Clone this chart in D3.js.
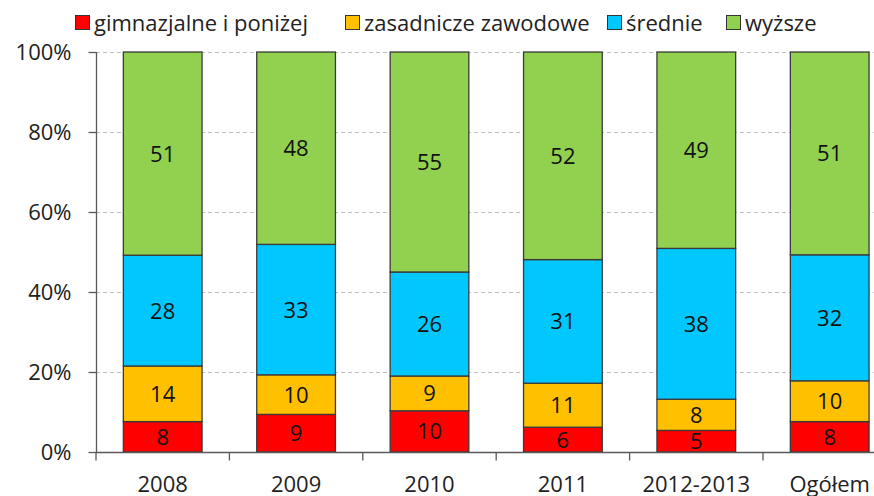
<!DOCTYPE html>
<html><head><meta charset="utf-8">
<script src="https://cdn.jsdelivr.net/npm/d3@7"></script>
<style>html,body{margin:0;padding:0;background:#fff;} svg{display:block;}</style>
</head><body>
<div id="chart"></div>
<script>
const categories = ["2008", "2009", "2010", "2011", "2012-2013", "Ogółem"];
const seriesNames = ["gimnazjalne i poniżej", "zasadnicze zawodowe", "średnie", "wyższe"];
const gimnazjalne = [7.6, 9.4, 10.3, 6.2, 5.4, 7.6];
const zasadnicze  = [13.9, 9.9, 8.7, 11.0, 7.8, 10.2];
const srednie     = [27.7, 32.6, 26.0, 30.9, 37.7, 31.5];
const wyzsze      = [50.8, 48.1, 55.0, 51.9, 49.1, 50.7];
const yTicks = [0, 0.2, 0.4, 0.6, 0.8, 1.0];
const colors = ["#FF0000", "#FFC000", "#00C8FF", "#92D050"];

const W = 874, H = 496;
const FONT = "'Open Sans', 'Liberation Sans', sans-serif";
const FS = 22;
const margin = {left: 96, top: 52, bottom: 44};
const plotW = 6 * 133.4;
const plotH = 400;

const svg = d3.select("#chart").append("svg").attr("width", W).attr("height", H)
  .style("font-family", FONT);

const table = categories.map((c, i) => ({
  cat: c, s0: gimnazjalne[i], s1: zasadnicze[i], s2: srednie[i], s3: wyzsze[i]
}));
const keys = ["s0", "s1", "s2", "s3"];
const stacked = d3.stack().keys(keys).offset(d3.stackOffsetExpand)(table);

const x = d3.scaleBand().domain(categories).range([margin.left, margin.left + plotW])
  .paddingInner(0.41).paddingOuter(0.205);
const y = d3.scaleLinear().domain([0, 1]).range([margin.top + plotH, margin.top]);

// gridlines
svg.append("g").selectAll("line").data(yTicks.filter(t => t > 0)).join("line")
  .attr("x1", margin.left).attr("x2", margin.left + plotW)
  .attr("y1", d => Math.round(y(d)) + 0.5).attr("y2", d => Math.round(y(d)) + 0.5)
  .attr("stroke", "#BFBFBF").attr("stroke-width", 1).attr("stroke-dasharray", "4,3");

// bars
const g = svg.append("g");
stacked.forEach((layer, si) => {
  g.append("g").selectAll("rect").data(layer).join("rect")
    .attr("x", d => x(d.data.cat))
    .attr("width", x.bandwidth())
    .attr("y", d => y(d[1]))
    .attr("height", d => y(d[0]) - y(d[1]))
    .attr("fill", colors[si])
    .attr("stroke", "#3a3a3a").attr("stroke-width", 1.3);
});
// labels
stacked.forEach((layer, si) => {
  g.append("g").selectAll("text").data(layer).join("text")
    .attr("x", d => x(d.data.cat) + x.bandwidth() / 2)
    .attr("y", d => (y(d[0]) + y(d[1])) / 2)
    .attr("dy", "0.36em")
    .attr("text-anchor", "middle")
    .attr("font-size", FS)
    .attr("fill", "#111")
    .text(d => Math.round(d.data[keys[si]]));
});

// y axis
const yAxis = d3.axisLeft(y).tickValues(yTicks).tickFormat(d3.format(".0%")).tickSize(8).tickPadding(17);
const ya = svg.append("g").attr("transform", `translate(${margin.left + 0.5},0)`).call(yAxis);
ya.selectAll("path,line").attr("stroke", "#595959").attr("stroke-width", 1.3);
ya.selectAll("text").attr("font-size", FS).attr("fill", "#222").style("font-family", FONT);
ya.select(".domain").attr("d", `M0,${y(0)}V${y(1)}`);

// x axis
const xa = svg.append("g").attr("transform", `translate(0,${y(0) + 0.5})`);
xa.append("line").attr("x1", margin.left).attr("x2", margin.left + plotW)
  .attr("stroke", "#595959").attr("stroke-width", 1.3);
const bounds = categories.map((c, i) => margin.left + i * x.step()).concat([margin.left + plotW]);
xa.selectAll("line.tk").data(bounds).join("line").attr("class", "tk")
  .attr("x1", d => d).attr("x2", d => d).attr("y1", 0).attr("y2", 8)
  .attr("stroke", "#595959").attr("stroke-width", 1.3);
xa.selectAll("text").data(categories).join("text")
  .attr("x", d => x(d) + x.bandwidth() / 2)
  .attr("y", 39)
  .attr("text-anchor", "middle")
  .attr("font-size", FS).attr("fill", "#222")
  .text(d => d);

// legend
const legX = [75, 345, 607, 726];
const leg = svg.append("g");
seriesNames.forEach((n, i) => {
  const lg = leg.append("g").attr("transform", `translate(${legX[i]},15)`);
  lg.append("rect").attr("x", 0.5).attr("y", 0.5).attr("width", 14).attr("height", 14)
    .attr("fill", colors[i]).attr("stroke", "#333").attr("stroke-width", 1);
  lg.append("text").attr("x", 19).attr("y", 8).attr("dy", "0.36em")
    .attr("font-size", FS).attr("fill", "#222").text(n);
});
</script>
</body></html>
